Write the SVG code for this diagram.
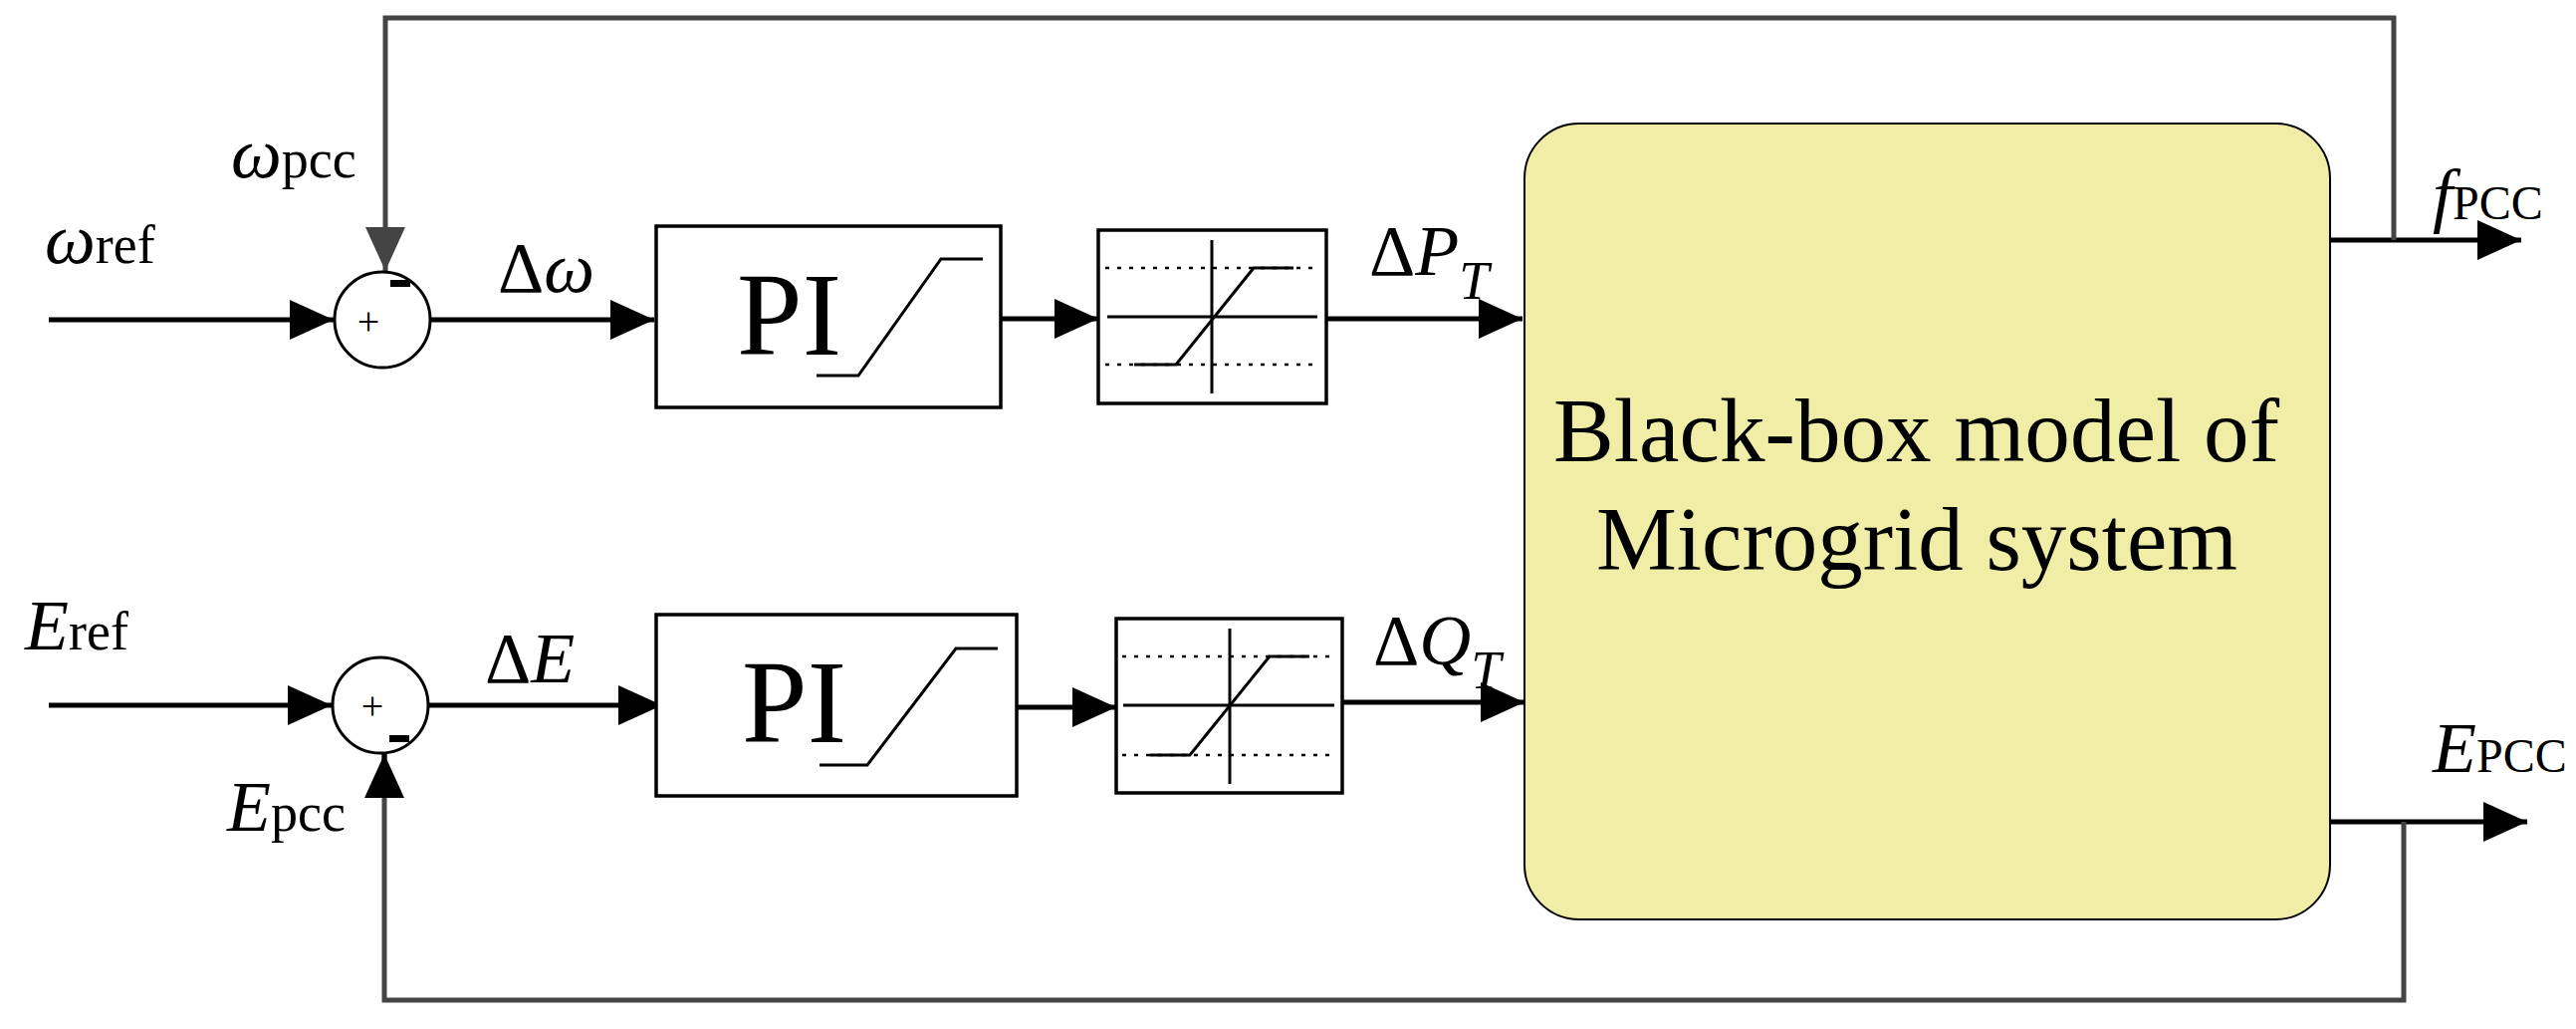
<svg xmlns="http://www.w3.org/2000/svg" width="2587" height="1033" viewBox="0 0 2587 1033">
<defs>
<marker id="ah" markerUnits="userSpaceOnUse" markerWidth="44" markerHeight="40" refX="44" refY="20" orient="auto"><path d="M0,0 L44,20 L0,40 z" fill="#000"/></marker>
<marker id="ahg" markerUnits="userSpaceOnUse" markerWidth="44" markerHeight="40" refX="44" refY="20" orient="auto"><path d="M0,0 L44,20 L0,40 z" fill="#444"/></marker>
</defs>
<style>
.l{stroke:#000;stroke-width:5;fill:none}
.fb{stroke:#444;stroke-width:5;fill:none}
.box{stroke:#000;stroke-width:3.5;fill:#fff}
.th{stroke:#000;stroke-width:3;fill:none}
.dot{stroke:#000;stroke-width:2.5;stroke-dasharray:4 8;fill:none}
.t{font-family:"Liberation Serif",serif;fill:#000}
.i{font-style:italic}
</style>
<rect width="2587" height="1033" fill="#fff"/>
<g id="connectors">
<path class="l" d="M49,321 L335,321" marker-end="url(#ah)"/>
<path class="l" d="M433,321 L657,321" marker-end="url(#ah)"/>
<path class="l" d="M1005,320 L1103,320" marker-end="url(#ah)"/>
<path class="l" d="M1332,320 L1529,320" marker-end="url(#ah)"/>
<path class="l" d="M49,708 L333,708" marker-end="url(#ah)"/>
<path class="l" d="M431,708 L665,708" marker-end="url(#ah)"/>
<path class="l" d="M1021,710 L1121,710" marker-end="url(#ah)"/>
<path class="l" d="M1348,705 L1531,705" marker-end="url(#ah)"/>
<path class="l" d="M2340,241 L2532,241" marker-end="url(#ah)"/>
<path class="l" d="M2340,825 L2538,825" marker-end="url(#ah)"/>
<path class="fb" d="M2404,241 L2404,18 L387,18 L387,272" marker-end="url(#ahg)"/>
<path class="fb" d="M2414,825 L2414,1004 L386,1004 L386,757"/>
<path class="l" d="M386,800 L386,757" marker-end="url(#ah)"/>
</g>
<g id="sum1">
<ellipse cx="384" cy="321" rx="48" ry="48" class="th" fill="#fff"/>
<text class="t" x="370" y="336" font-size="40" text-anchor="middle">+</text>
<rect x="392" y="281" width="20" height="7" fill="#000"/>
</g>
<g id="sum2">
<ellipse cx="382" cy="708" rx="48" ry="48" class="th" fill="#fff"/>
<text class="t" x="374" y="722" font-size="40" text-anchor="middle">+</text>
<rect x="391" y="738" width="20" height="7" fill="#000"/>
</g>
<g id="pi1">
<rect class="box" x="659" y="227" width="346" height="182"/>
<text class="t" x="740" y="356" font-size="118">PI</text>
<path class="th" d="M820,377 L862,377 L945,260 L987,260"/>
</g>
<g id="lim1">
<rect class="box" x="1103" y="231" width="229" height="174"/>
<path class="dot" d="M1110,269 L1326,269 M1110,366 L1326,366"/>
<path class="th" d="M1112,318 L1323,318 M1217,241 L1217,395"/>
<path class="th" d="M1139,366 L1181,366 L1259,269 L1299,269"/>
</g>
<g id="pi2">
<rect class="box" x="659" y="617" width="362" height="182"/>
<text class="t" x="745" y="745" font-size="118">PI</text>
<path class="th" d="M823,768 L871,768 L960,651 L1002,651"/>
</g>
<g id="lim2">
<rect class="box" x="1121" y="621" width="227" height="175"/>
<path class="dot" d="M1127,659 L1342,659 M1127,758 L1342,758"/>
<path class="th" d="M1128,708 L1340,708 M1235,631 L1235,787"/>
<path class="th" d="M1155,758 L1195,758 L1275,659 L1315,659"/>
</g>
<g id="blackbox">
<rect x="1531" y="124" width="809" height="799" rx="55" ry="55" fill="#f0eea6" stroke="#000" stroke-width="2"/>
<text class="t" x="1560" y="463" font-size="90" textLength="729" lengthAdjust="spacingAndGlyphs">Black-box model of</text>
<text class="t" x="1603" y="572" font-size="90" textLength="644" lengthAdjust="spacingAndGlyphs">Microgrid system</text>
</g>
<g id="labels">
<text class="t" x="45" y="264" font-size="72"><tspan class="i">ω</tspan><tspan font-size="54">ref</tspan></text>
<text class="t" x="232" y="178" font-size="72"><tspan class="i">ω</tspan><tspan font-size="54">pcc</tspan></text>
<text class="t" x="500" y="293" font-size="72">Δ<tspan class="i">ω</tspan></text>
<text class="t" x="25" y="652" font-size="72"><tspan class="i">E</tspan><tspan font-size="54">ref</tspan></text>
<text class="t" x="487" y="685" font-size="72">Δ<tspan class="i">E</tspan></text>
<text class="t" x="228" y="834" font-size="72"><tspan class="i">E</tspan><tspan font-size="54">pcc</tspan></text>
<text class="t" x="1375" y="276" font-size="72">Δ<tspan class="i">P</tspan><tspan class="i" font-size="54" dy="24">T</tspan></text>
<text class="t" x="1379" y="667" font-size="72">Δ<tspan class="i">Q</tspan><tspan class="i" font-size="54" dy="24">T</tspan></text>
<text class="t" x="2443" y="220" font-size="72"><tspan class="i">f</tspan><tspan font-size="48">PCC</tspan></text>
<text class="t" x="2443" y="775" font-size="72"><tspan class="i">E</tspan><tspan font-size="48">PCC</tspan></text>
</g>
</svg>
